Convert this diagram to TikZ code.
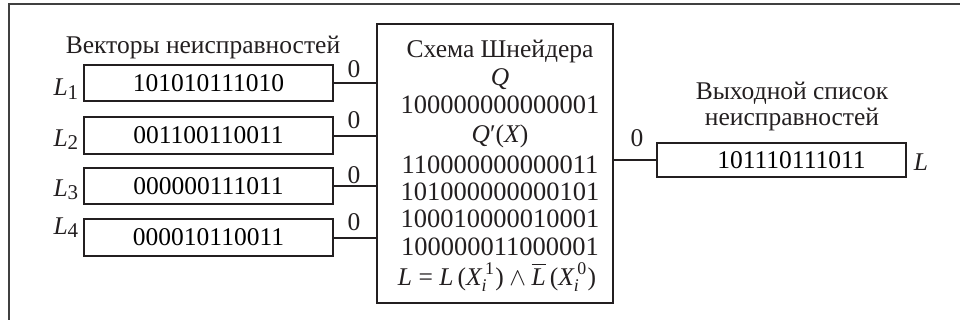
\documentclass[tikz,border=0pt]{standalone}
\usepackage{amsmath}
\usepackage{fontspec}
\setmainfont{Liberation Serif}
\newcommand{\vi}[1]{\text{\itshape #1}}
\newcommand{\lsub}[2]{{\itshape #1}\raisebox{-1.4pt}{\fontsize{8.4}{9}\selectfont #2}}
\definecolor{ink}{HTML}{231F20}
\definecolor{framecol}{HTML}{404040}
\tikzset{
  vecbox/.style={draw=ink, line width=0.8pt, minimum width=99.6pt, minimum height=14.6pt, inner sep=0pt},
  outbox/.style={draw=ink, line width=0.8pt, minimum width=99.6pt, minimum height=13.6pt, inner sep=0pt},
  bigbox/.style={draw=ink, line width=0.8pt, minimum width=94.4pt, minimum height=111.6pt, inner sep=0pt},
  txt/.style={anchor=base, inner sep=0pt, text=ink},
  bigdig/.style={txt, font=\fontsize{10.6}{11}\selectfont},
  wire/.style={draw=ink, line width=0.8pt},
}
\begin{document}
\begin{tikzpicture}[x=0.4pt, y=-0.4pt, font=\fontsize{10.2}{11}\selectfont]
\useasboundingbox (0,0) rectangle (960,320);
\coordinate (fa) at (9,330);
\coordinate (fb) at (9,4);
\coordinate (fc) at (970,4);
\draw[framecol, line width=0.8pt] (fa) -- (fb) -- (fc);

% left title
\node[txt] (ltitle) at (203,53) {Векторы неисправностей};

% vector boxes
\node[vecbox] (v1) at (208.5,83) {101010111010};
\node[vecbox] (v2) at (208.5,135.5) {001100110011};
\node[vecbox] (v3) at (208.5,186) {000000111011};
\node[vecbox] (v4) at (208.5,237.5) {000010110011};

% L labels
\node[txt, anchor=base west] (l1) at (53,96) {\lsub{L}{1}};
\node[txt, anchor=base west] (l2) at (53,146) {\lsub{L}{2}};
\node[txt, anchor=base west] (l3) at (53,196) {\lsub{L}{3}};
\node[txt, anchor=base west] (l4) at (53,234) {\lsub{L}{4}};

% big box
\node[bigbox] (big) at (495,163.5) {};
\node[txt] (b1) at (500,57) {Схема Шнейдера};
\node[txt] (b2) at (500,86) {\itshape Q};
\node[bigdig] (b3) at (500,113) {100000000000001};
\node[txt] (b4) at (500,142) {{\itshape Q}′({\itshape X})};
\node[bigdig] (b5) at (500,173) {110000000000011};
\node[bigdig] (b6) at (500,200) {101000000000101};
\node[bigdig] (b7) at (500,227) {100010000010001};
\node[bigdig] (b8) at (500,255) {100000011000001};
\node[txt] (b9) at (497,285) {$\vi{L}\text{ = }\vi{L}\,\text{(}\vi{X}_{\vi{i}}^{\,\text{1}}\text{)}\wedge\overline{\vi{L}}\,\text{(}\vi{X}_{\vi{i}}^{\,\text{0}}\text{)}$};

% input wires
\draw[wire] (v1.east) -- (v1.east -| big.west);
\draw[wire] (v2.east) -- (v2.east -| big.west);
\draw[wire] (v3.east) -- (v3.east -| big.west);
\draw[wire] (v4.east) -- (v4.east -| big.west);
\node[txt] (z1) at (354,78) {0};
\node[txt] (z2) at (354,128) {0};
\node[txt] (z3) at (354,183) {0};
\node[txt] (z4) at (354,230) {0};

% output
\node[outbox] (out) at (781.5,160) {\hspace*{8pt}101110111011};
\draw[wire] (out.west -| big.east) -- (out.west);
\node[txt] (z5) at (637,146) {0};
\node[txt] (ot1) at (792,100) {Выходной список};
\node[txt] (ot2) at (792,125) {неисправностей};
\node[txt] (lout) at (921,170) {\itshape L};
\end{tikzpicture}
\end{document}
